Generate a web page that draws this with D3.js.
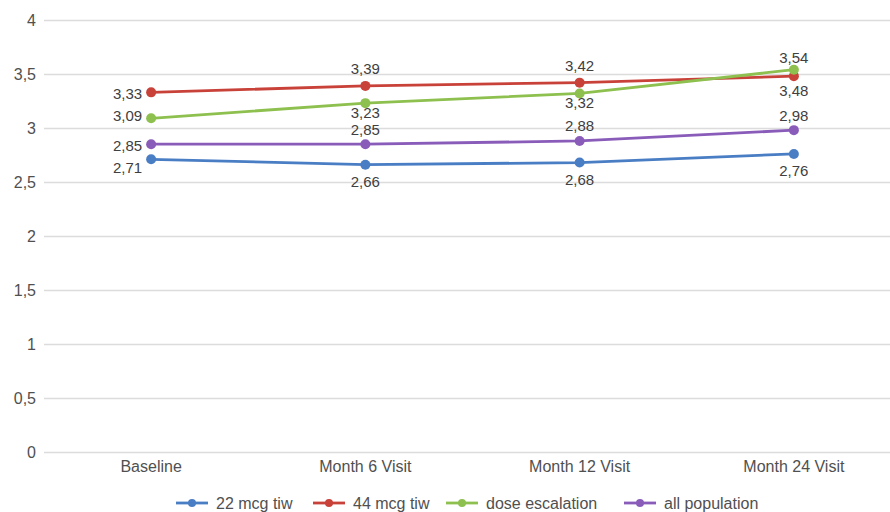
<!DOCTYPE html>
<html>
<head>
<meta charset="utf-8">
<script src="https://cdn.jsdelivr.net/npm/d3@7"></script>
<style>
  html, body { margin: 0; padding: 0; background: #fff; }
  svg { display: block; font-family: "Liberation Sans", Arial, sans-serif; }
</style>
</head>
<body>
<svg id="chart" width="890" height="512"></svg>
<script>
// Visits on the x axis
const visits = ["Baseline", "Month 6 Visit", "Month 12 Visit", "Month 24 Visit"];

// Mean values per treatment group
const seriesNames = ["22 mcg tiw", "44 mcg tiw", "dose escalation", "all population"];
const values22 = [2.71, 2.66, 2.68, 2.76];
const values44 = [3.33, 3.39, 3.42, 3.48];
const valuesEsc = [3.09, 3.23, 3.32, 3.54];
const valuesAll = [2.85, 2.85, 2.88, 2.98];

// Y axis ticks
const yTicks = [0, 0.5, 1, 1.5, 2, 2.5, 3, 3.5, 4];

// Where each point's value label sits relative to the point
const labelSide22 = ["left", "below", "below", "below"];
const labelSide44 = ["left", "above", "above", "below"];
const labelSideEsc = ["left", "below", "below", "above"];
const labelSideAll = ["left", "above", "above", "above"];

const colors = ["#4a7ec4", "#c9423a", "#8dc04e", "#8a5cba"];

// Per-series styling: colour, label distance above / below its point,
// and vertical nudge of the left-hand labels so they do not collide
const series = [
  { name: seriesNames[0], values: values22, sides: labelSide22, color: colors[0], gapUp: 16, gapDown: 17, leftDy: 7 },
  { name: seriesNames[1], values: values44, sides: labelSide44, color: colors[1], gapUp: 17, gapDown: 14, leftDy: 0 },
  { name: seriesNames[2], values: valuesEsc, sides: labelSideEsc, color: colors[2], gapUp: 12, gapDown: 9, leftDy: -4 },
  { name: seriesNames[3], values: valuesAll, sides: labelSideAll, color: colors[3], gapUp: 15, gapDown: 16, leftDy: 0 }
];

const svg = d3.select("#chart");
const plotLeft = 44, plotRight = 901, plotTop = 20, plotBottom = 452;
const fontFamily = "'Liberation Sans', Arial, sans-serif";

const x = d3.scaleBand().domain(visits).range([plotLeft, plotRight]);
const cx = v => x(v) + x.bandwidth() / 2;
const y = d3.scaleLinear().domain([0, 4]).range([plotBottom, plotTop]);

const fmt = v => d3.format(".2f")(v).replace(".", ",");
const fmtTick = v => String(v).replace(".", ",");

// Horizontal gridlines and y tick labels
const yAxis = d3.axisLeft(y).tickValues(yTicks).tickFormat(fmtTick)
  .tickSize(-(plotRight - plotLeft)).tickPadding(8);
const gy = svg.append("g").attr("transform", `translate(${plotLeft},0)`).call(yAxis);
gy.select(".domain").remove();
gy.selectAll(".tick line").attr("stroke", "#dcdcdc").attr("stroke-width", 1.5);
gy.selectAll(".tick text").attr("fill", "#505050").style("font-size", "16px")
  .style("font-family", fontFamily);

// Category labels
const xAxis = d3.axisBottom(x).tickSize(0).tickPadding(9);
const gx = svg.append("g").attr("transform", `translate(0,${plotBottom})`).call(xAxis);
gx.select(".domain").remove();
gx.selectAll(".tick text").attr("fill", "#505050").style("font-size", "16px")
  .style("font-family", fontFamily);

// Lines and markers
const line = d3.line().x((d, i) => cx(visits[i])).y(d => y(d));
const groups = svg.append("g").selectAll("g").data(series).join("g");
groups.append("path")
  .attr("d", d => line(d.values))
  .attr("fill", "none")
  .attr("stroke", d => d.color)
  .attr("stroke-width", 2.8)
  .attr("stroke-linejoin", "round");
groups.selectAll("circle")
  .data(d => d.values.map((v, i) => ({ v, i, color: d.color })))
  .join("circle")
  .attr("cx", d => cx(visits[d.i]))
  .attr("cy", d => y(d.v))
  .attr("r", 5)
  .attr("fill", d => d.color);

// Value labels
const labels = svg.append("g");
series.forEach(s => {
  s.values.forEach((v, i) => {
    const side = s.sides[i];
    const px = cx(visits[i]), py = y(v);
    const t = labels.append("text")
      .text(fmt(v))
      .attr("fill", "#404040")
      .style("font-size", "15px")
      .attr("dominant-baseline", "central");
    if (side === "left") {
      t.attr("x", px - 9).attr("y", py + 1 + s.leftDy).attr("text-anchor", "end");
    } else if (side === "above") {
      t.attr("x", px).attr("y", py - s.gapUp).attr("text-anchor", "middle");
    } else {
      t.attr("x", px).attr("y", py + s.gapDown).attr("text-anchor", "middle");
    }
  });
});

// Legend
const legendX = [176, 313, 446, 624];
const legend = svg.append("g").attr("transform", "translate(0,503)");
const items = legend.selectAll("g").data(series).join("g")
  .attr("transform", (d, i) => `translate(${legendX[i]},0)`);
items.append("line").attr("x1", 0).attr("x2", 32).attr("y1", 0).attr("y2", 0)
  .attr("stroke", d => d.color).attr("stroke-width", 2.8);
items.append("circle").attr("cx", 16).attr("cy", 0).attr("r", 4).attr("fill", d => d.color);
items.append("text").attr("x", 40).attr("y", 0).attr("dominant-baseline", "central")
  .attr("fill", "#505050").style("font-size", "16px").text(d => d.name);
</script>
</body>
</html>
